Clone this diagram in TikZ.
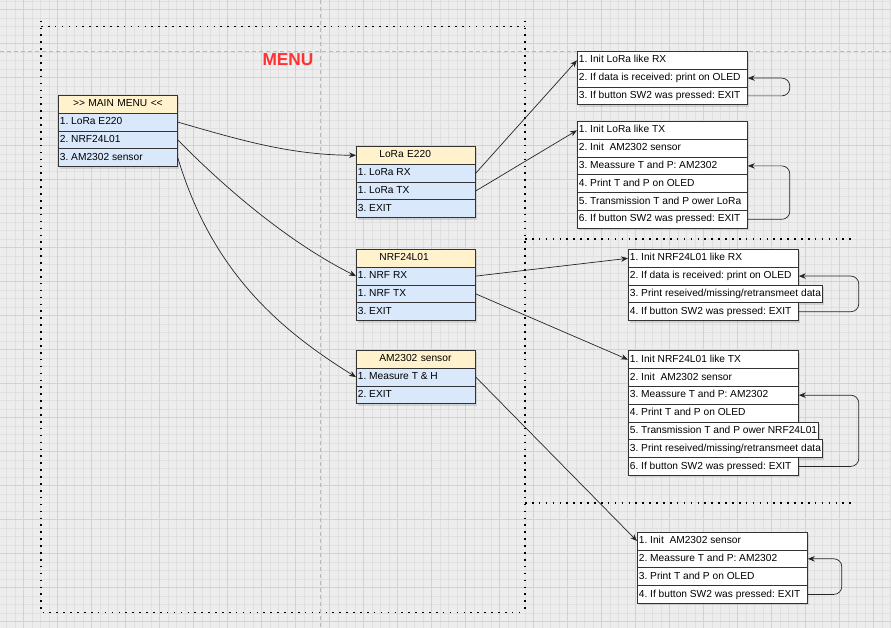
\documentclass[tikz,border=0pt]{standalone}
\usepackage{fontspec}
\setmainfont{Liberation Sans}
\usetikzlibrary{arrows.meta,shadows}
\frenchspacing
\definecolor{HeadFill}{HTML}{FFF2CC}
\definecolor{ItemFill}{HTML}{DAE8FC}
\definecolor{MenuRed}{HTML}{FF3333}
\definecolor{GridBg}{RGB}{237,237,237}
\definecolor{GridMinor}{RGB}{224,224,224}
\definecolor{GridMajor}{RGB}{210,210,210}
\definecolor{PageGray}{RGB}{185,185,185}
\tikzset{
Cell/.style={draw=black!80,line width=.8pt,anchor=north west,minimum height=17.8pt,inner ysep=0pt,inner xsep=1.5pt,text height=7.4pt,text depth=2.1pt,drop shadow={shadow xshift=1.5pt,shadow yshift=-2pt,opacity=.25}},
Head/.style={Cell,fill=HeadFill,text width=116pt,align=center},
Item/.style={Cell,fill=ItemFill},
Link/.style={draw=black!85,line width=.7pt,-{Stealth[length=7pt,width=5.5pt]}},
Loop/.style={Link,rounded corners=8pt},
Frame/.style={line width=1.6pt,dash pattern=on 1.6pt off 5.3pt},
PageLine/.style={draw=PageGray,line width=.6pt,dash pattern=on 4pt off 3pt}
}
\newlength{\RowW}
\newcommand{\PadText}[1]{\setbox0=\hbox{#1}\ifdim\wd0<\RowW\makebox[\RowW][l]{\box0}\else\box0\fi}
\newcommand{\MakeMenu}[6][]{%
	\begin{scope}[name prefix = #2@,shift={(#3)},#1]%
		\setlength{\RowW}{\dimexpr#4pt-3pt\relax}%
		\def\HeadOff{0}%
		\if\relax\detokenize{#5}\relax%
		\else%
			\node[Head,minimum width=#4] (head) at (0,0) {#5};%
			\def\HeadOff{1}%
		\fi%
		\foreach \t [count=\i] in {#6}{%
			\node[Item,minimum width=#4] (\i) at (0,{(\i-1+\HeadOff)*17.8}) {\PadText{\t}};%
		}%
	\end{scope}%
}
\begin{document}
\begin{tikzpicture}[x=1pt,y=-1pt,every node/.style={font=\fontsize{10.2}{12}\selectfont}]
	\useasboundingbox (0,0) rectangle (891,628);
	
	\fill[GridBg] (0,0) rectangle (891,628);
	\begin{scope}% Grid
		\clip (0,0) rectangle (891,628);
		\draw[GridMinor,line width=.5pt,step=8.5pt,shift={(23.3,9.3)}] (-34,646) grid (880,-34);
		\draw[GridMajor,line width=.6pt,step=34pt,shift={(23.3,9.3)}] (-34,646) grid (880,-34);
	\end{scope}
	\draw[PageLine] (0,51) -- (891,51);
	\draw[PageLine] (320,0) -- (320,628);
	
	\draw[Frame] (41,20.7) -- (41,612.5) -- (525,612.5);
	\draw[Frame] (41,26.7) -- (525,26.7);
	\draw[Frame] (525,20.7) -- (525,612.5);
	\draw[Frame] (525,239) -- (853,239);
	\draw[Frame] (525,503) -- (855,503);
	
	\node[font=\bfseries\fontsize{17.3}{20}\selectfont,text=MenuRed] (menu) at (288,59.5) {MENU};
	
	% Menus
	\MakeMenu{main}{58,95}{119}{>\kern0pt> MAIN MENU <\kern0pt<}{1. LoRa E220,2. NRF24L01,3. AM2302 sensor}
	\begin{scope}[Head/.append style={text width=73pt,inner xsep=23pt,align=left}]
		\MakeMenu{lora}{356,146}{119}{LoRa E220}{1. LoRa RX,1. LoRa TX,3. EXIT}
		\MakeMenu{nrf}{356,249}{119}{NRF24L01}{1. NRF RX,1. NRF TX,3. EXIT}
		\MakeMenu{am}{356,350}{119}{AM2302 sensor}{1. Measure T \& H,2. EXIT}
	\end{scope}
	
	% Tasks
	\begin{scope}[Item/.append style={fill=white}]
		\MakeMenu{lorarx}{577,51}{170}{}{1. Init LoRa like RX,2. If data is received: print on OLED,3. If button SW2 was pressed: EXIT}
		\MakeMenu{loratx}{577,121}{170}{}{1. Init LoRa like TX,2. Init~ AM2302 sensor,3. Meassure T and P: AM2302,4. Print T and P on OLED,5. Transmission T and P ower LoRa,6. If button SW2 was pressed: EXIT}
		\MakeMenu{nrfrx}{628,249}{170}{}{1. Init NRF24L01 like RX,2. If data is received: print on OLED,3. Print reseived/missing/retransmeet data,4. If button SW2 was pressed: EXIT}
		\MakeMenu{nrftx}{628,350.3}{170}{}{1. Init NRF24L01 like TX,2. Init~ AM2302 sensor,3. Meassure T and P: AM2302,4. Print T and P on OLED,5. Transmission T and P ower NRF24L01,3. Print reseived/missing/retransmeet data,6. If button SW2 was pressed: EXIT}
		\MakeMenu{amrun}{637,531.7}{170}{}{1. Init~ AM2302 sensor,2. Meassure T and P: AM2302,3. Print T and P on OLED,4. If button SW2 was pressed: EXIT}
	\end{scope}
	
	\draw[Link] (main@1.east) .. controls (240,140) and (290,155) .. (lora@head.west);
	\draw[Link] (main@2.east) .. controls (222,185) and (286,241) .. (nrf@1.west);
	\draw[Link] (main@3.east) .. controls (212,272) and (280,330) .. (am@1.west);
	
	\draw[Link] (lora@1.east) -- (lorarx@1.west);
	\draw[Link] (lora@2.east) -- (loratx@1.west);
	\draw[Link] (nrf@1.east) -- (nrfrx@1.west);
	\draw[Link] (nrf@2.east) -- (nrftx@1.west);
	\draw[Link] (am@1.east) -- (amrun@1.west);
	
	\draw[Loop] (lorarx@3.east) -- ++(42,0) |- (lorarx@2.east);
	\draw[Loop] (loratx@6.east) -- ++(42,0) |- (loratx@3.east);
	\draw[Loop] (nrfrx@4.east) -- ++(60,0) |- (nrfrx@2.east);
	\draw[Loop] (nrftx@7.east) -- ++(60,0) |- (nrftx@3.east);
	\draw[Loop] (amrun@4.east) -- ++(34,0) |- (amrun@2.east);
\end{tikzpicture}
\end{document}
